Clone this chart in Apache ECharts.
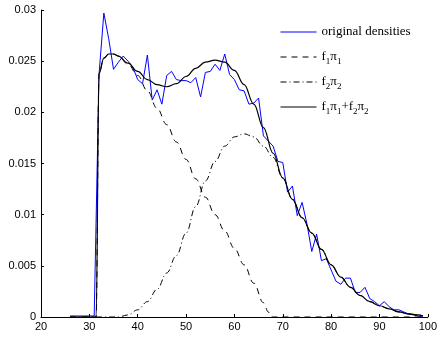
<!DOCTYPE html>
<html>
<head>
<meta charset="utf-8">
<script src="https://cdn.jsdelivr.net/npm/echarts@6/dist/echarts.min.js"></script>
<style>
  html, body { margin: 0; padding: 0; background: #fff; }
  #chart { width: 440px; height: 340px; }
</style>
</head>
<body>
<div id="chart"></div>
<script>
// original densities, one value per integer age
const densX = [26, 27, 28, 29, 30, 31, 32, 33, 34, 35, 36, 37, 38, 39, 40, 41, 42, 43, 44, 45,
  46, 47, 48, 49, 50, 51, 52, 53, 54, 55, 56, 57, 58, 59, 60, 61, 62, 63, 64, 65,
  66, 67, 68, 69, 70, 71, 72, 73, 74, 75, 76, 77, 78, 79, 80, 81, 82, 83, 84, 85,
  86, 87, 88, 89, 90, 91, 92, 93, 94, 95, 96, 97, 98, 99];
const densY = [0.0001, 0.0001, 0.0001, 0.0001, 0.0001, 0.0001, 0.0237, 0.0297, 0.0272, 0.0242,
  0.0249, 0.0255, 0.0250, 0.0244, 0.0232, 0.0228, 0.0256, 0.0212, 0.0222, 0.0208,
  0.0236, 0.0240, 0.0232, 0.0231, 0.0231, 0.0229, 0.0234, 0.0215, 0.0239, 0.0240,
  0.0247, 0.0241, 0.0257, 0.0237, 0.0232, 0.0222, 0.0221, 0.0208, 0.0209, 0.0214,
  0.0177, 0.0172, 0.0167, 0.0152, 0.0151, 0.0122, 0.0128, 0.0099, 0.0112, 0.0091,
  0.0064, 0.0081, 0.0055, 0.0057, 0.0046, 0.0035, 0.0032, 0.0038, 0.0038, 0.0024,
  0.0024, 0.0029, 0.0018, 0.0015, 0.0011, 0.0015, 0.0010, 0.0007, 0.0007, 0.0005,
  0.0003, 0.0002, 0.0001, 0.0000];

// first component f1*pi1
const f1X = [26, 31.4, 32, 33, 34, 35, 36, 38, 40, 42, 44, 46, 48, 50, 52, 54, 56, 58, 60, 62, 64, 66, 67, 67.6, 99];
const f1Y = [0, 0, 0.0238, 0.0253, 0.0257, 0.0257, 0.0255, 0.0247, 0.0236, 0.0221, 0.0204, 0.0188, 0.0171,
  0.0154, 0.0135, 0.0117, 0.0100, 0.0084, 0.0067, 0.0051, 0.0033, 0.0014, 0.0005, 0, 0];

// second component f2*pi2
const f2X = [26, 36, 38, 40, 42, 44, 46, 48, 50, 52, 54, 56, 58, 60, 62, 64, 66, 68, 70, 72, 74, 76, 78,
  80, 82, 84, 86, 88, 90, 92, 94, 96, 98, 99];
const f2Y = [0, 0, 0.0002, 0.0007, 0.0015, 0.0027, 0.0043, 0.0060, 0.0082, 0.0108, 0.0133, 0.0152, 0.0167,
  0.0176, 0.0179, 0.0176, 0.0167, 0.0156, 0.0136, 0.0115, 0.0097, 0.0082, 0.0066, 0.0051, 0.0039,
  0.0029, 0.0021, 0.0015, 0.0011, 0.0008, 0.0005, 0.0003, 0.0002, 0.0001];

// mixture f1*pi1 + f2*pi2
const mixX = [26, 31.4, 32, 33, 34, 35, 36, 38, 40, 42, 44, 46, 48, 50, 52, 54, 56, 58, 60, 62, 64, 66, 68,
  70, 72, 74, 76, 78, 80, 82, 84, 86, 88, 90, 92, 94, 96, 98, 99];
const mixY = [0, 0, 0.0238, 0.0253, 0.0257, 0.0257, 0.0255, 0.0248, 0.0240, 0.0232, 0.0227, 0.0225, 0.0228,
  0.0235, 0.0243, 0.0249, 0.0251, 0.0249, 0.0241, 0.0227, 0.0208, 0.0185, 0.0160, 0.0136, 0.0115,
  0.0097, 0.0082, 0.0066, 0.0051, 0.0039, 0.0029, 0.0021, 0.0015, 0.0011, 0.0008, 0.0005, 0.0003,
  0.0002, 0.0001];

const xTicks = [20, 30, 40, 50, 60, 70, 80, 90, 100];
const yTicks = [0, 0.005, 0.01, 0.015, 0.02, 0.025, 0.03];

const names = ['original densities', 'f1π1', 'f2π2', 'f1π1+f2π2'];
const legendTops = [23, 48, 73, 98];

const pairs = (xs, ys) => xs.map((x, i) => [x, ys[i]]);
const serif = '"Liberation Serif", "Times New Roman", serif';
const sans = '"Liberation Sans", Arial, Helvetica, sans-serif';

const richText = {
  n: { fontFamily: serif, fontSize: 13, color: '#000', lineHeight: 18, verticalAlign: 'middle' },
  s: { fontFamily: serif, fontSize: 9, color: '#000', lineHeight: 18, verticalAlign: 'bottom' }
};
function legendLabel(name) {
  if (name === 'original densities') return '{n|' + name + '}';
  // turn the digits into subscripts
  return name.replace(/([^0-9]+)|([0-9])/g, (m, a, d) => a ? '{n|' + a + '}' : '{s|' + d + '}');
}

let chart = echarts.init(document.getElementById('chart'), null, { renderer: 'canvas' });
let option = {
  animation: false,
  backgroundColor: '#fff',
  grid: { left: 41, right: 10, top: 10, bottom: 23 },
  legend: names.map((nm, i) => ({
    data: [nm],
    left: 280,
    top: legendTops[i],
    orient: 'vertical',
    padding: 0,
    itemWidth: 36,
    itemHeight: 14,
    selectedMode: false,
    itemStyle: { opacity: 0 },
    lineStyle: { width: 1 },
    formatter: legendLabel,
    textStyle: { rich: richText, lineHeight: 18 }
  })),
  xAxis: {
    type: 'value',
    min: xTicks[0],
    max: xTicks[xTicks.length - 1],
    interval: 10,
    splitLine: { show: false },
    axisLine: { onZero: false, lineStyle: { color: '#000', width: 1 } },
    axisTick: { inside: true, length: 3, lineStyle: { color: '#000' } },
    axisLabel: { color: '#000', fontFamily: sans, fontSize: 11, margin: 4 }
  },
  yAxis: {
    type: 'value',
    min: yTicks[0],
    max: yTicks[yTicks.length - 1],
    interval: 0.005,
    splitLine: { show: false },
    axisLine: { show: true, lineStyle: { color: '#000', width: 1 } },
    axisTick: { show: true, inside: true, length: 3, lineStyle: { color: '#000' } },
    axisLabel: {
      color: '#000', fontFamily: sans, fontSize: 11, margin: 5,
      formatter: v => String(+v.toFixed(3))
    }
  },
  series: [
    {
      name: names[0], type: 'line', symbol: 'none', data: pairs(densX, densY),
      lineStyle: { color: '#0000ff', width: 1 }, itemStyle: { color: '#0000ff' }
    },
    {
      name: names[1], type: 'line', symbol: 'none', data: pairs(f1X, f1Y),
      smooth: 0.4, smoothMonotone: 'x',
      lineStyle: { color: '#000', width: 1, type: [6, 5] }, itemStyle: { color: '#000' }
    },
    {
      name: names[2], type: 'line', symbol: 'none', data: pairs(f2X, f2Y),
      smooth: 0.4, smoothMonotone: 'x',
      lineStyle: { color: '#000', width: 1, type: [6, 3, 1, 3] }, itemStyle: { color: '#000' }
    },
    {
      name: names[3], type: 'line', symbol: 'none', data: pairs(mixX, mixY),
      smooth: 0.4, smoothMonotone: 'x',
      lineStyle: { color: '#000', width: 1.2 }, itemStyle: { color: '#000' }
    }
  ]
};
chart.setOption(option);
</script>
</body>
</html>
